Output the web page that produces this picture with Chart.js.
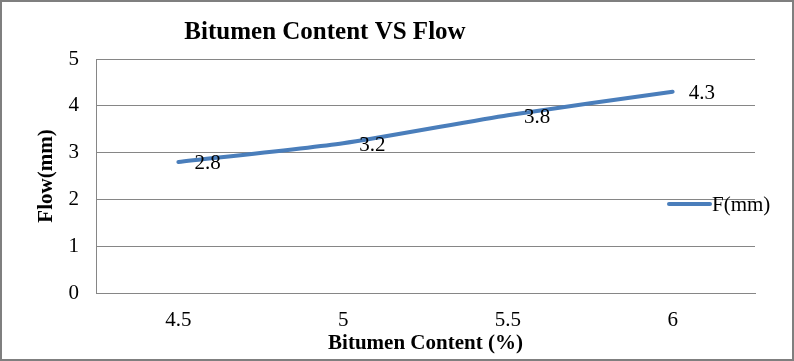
<!DOCTYPE html>
<html>
<head>
<meta charset="utf-8">
<title>Bitumen Content VS Flow</title>
<script src="https://cdn.jsdelivr.net/npm/chart.js@4.4.0/dist/chart.umd.min.js"></script>
<style>
    html, body { margin: 0; padding: 0; background: #fff; }
    #wrap { width: 794px; height: 361px; box-sizing: border-box; border: 2px solid #7f7f7f; }
    canvas { display: block; }
</style>
</head>
<body>
<div id="wrap"><canvas id="flow-chart" width="790" height="357"></canvas></div>
<script>
const bitumenContent = ['4.5', '5', '5.5', '6'];
const flowValues = [2.8, 3.2, 3.8, 4.3];
const seriesName = 'F(mm)';
const chartTitle = 'Bitumen Content VS Flow';
const xTitle = 'Bitumen Content (%)';
const yTitle = 'Flow(mm)';

const serif = "'Liberation Serif', 'Times New Roman', serif";
const lineBlue = '#4a7ebb';
const gridGray = '#868686';

// value next to every point, like excel's data labels (right side)
const valueLabels = {
    id: 'valueLabels',
    afterDatasetsDraw(chart) {
        const ctx = chart.ctx;
        const meta = chart.getDatasetMeta(0);
        ctx.save();
        ctx.font = '21px ' + serif;
        ctx.fillStyle = '#000';
        ctx.textAlign = 'left';
        ctx.textBaseline = 'middle';
        meta.data.forEach((pt, i) => {
            ctx.fillText(String(flowValues[i]), pt.x + 16, pt.y + 2);
        });
        ctx.restore();
    }
};

// title sits left of centre in the original, so draw it by hand
const titleAndLegend = {
    id: 'titleAndLegend',
    afterDraw(chart) {
        const ctx = chart.ctx;
        ctx.save();
        ctx.fillStyle = '#000';
        ctx.font = 'bold 25px ' + serif;
        ctx.textAlign = 'center';
        ctx.textBaseline = 'alphabetic';
        ctx.fillText(chartTitle, 323, 37);

        // legend overlaps the plot on the right
        const ly = 202;
        ctx.strokeStyle = lineBlue;
        ctx.lineWidth = 4;
        ctx.lineCap = 'round';
        ctx.beginPath();
        ctx.moveTo(667, ly);
        ctx.lineTo(708, ly);
        ctx.stroke();
        ctx.font = '21px ' + serif;
        ctx.textAlign = 'left';
        ctx.textBaseline = 'middle';
        ctx.fillText(seriesName, 710, ly + 1);
        ctx.restore();
    }
};

const ctx = document.getElementById('flow-chart');

new Chart(ctx, {
    type: 'line',
    data: {
        labels: bitumenContent,
        datasets: [{
            label: seriesName,
            data: flowValues,
            borderColor: lineBlue,
            borderWidth: 4,
            borderCapStyle: 'round',
            pointRadius: 0,
            pointHoverRadius: 0,
            tension: 0.2,
            fill: false
        }]
    },
    options: {
        responsive: false,
        animation: false,
        layout: {
            padding: { top: 57, right: 37, bottom: 0, left: 0 }
        },
        plugins: {
            legend: { display: false },
            title: { display: false },
            tooltip: { enabled: false }
        },
        scales: {
            x: {
                offset: true,
                grid: { display: false, drawTicks: false },
                border: { display: true, color: gridGray, width: 1 },
                ticks: {
                    color: '#000',
                    padding: 15,
                    font: { family: serif, size: 21 }
                },
                title: {
                    display: true,
                    text: xTitle,
                    color: '#000',
                    font: { family: serif, size: 21, weight: 'bold' },
                    padding: { top: 0, bottom: 3 }
                },
                afterFit(scale) { scale.height = 66; }
            },
            y: {
                min: 0,
                max: 5,
                ticks: {
                    stepSize: 1,
                    color: '#000',
                    padding: 17,
                    font: { family: serif, size: 21 }
                },
                grid: { color: gridGray, lineWidth: 1, drawTicks: false },
                border: { display: true, color: gridGray, width: 1 },
                title: {
                    display: true,
                    text: yTitle,
                    color: '#000',
                    font: { family: serif, size: 21, weight: 'bold' },
                    padding: { top: 32, bottom: 0 }
                },
                afterFit(scale) { scale.width = 94; }
            }
        }
    },
    plugins: [valueLabels, titleAndLegend]
});
</script>
</body>
</html>
